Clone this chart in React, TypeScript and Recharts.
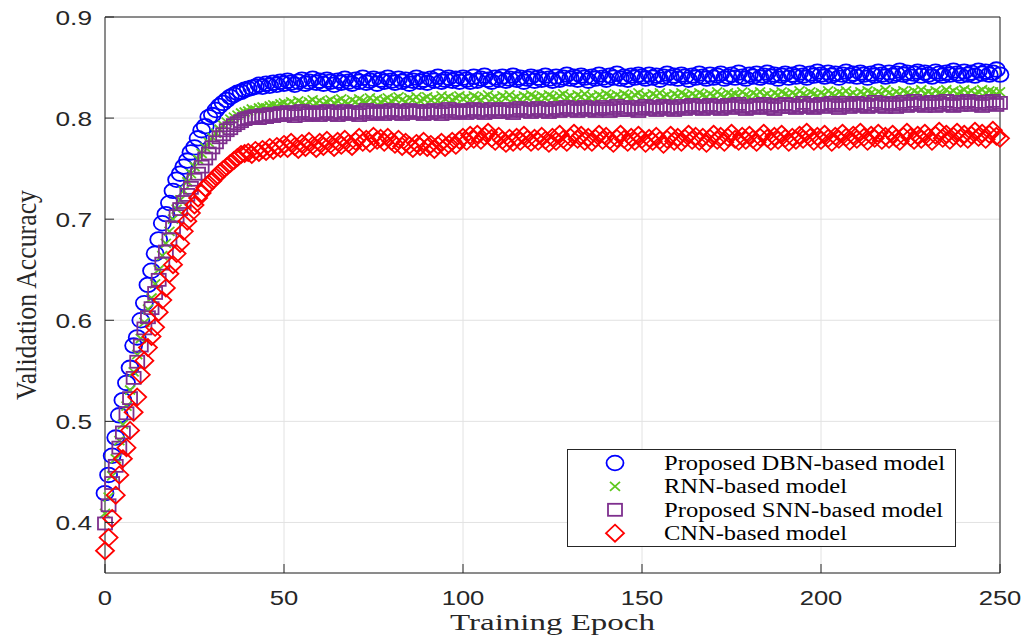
import React from "react";
import {
  ScatterChart,
  Scatter,
  XAxis,
  YAxis,
  CartesianGrid,
  Legend,
  Label,
} from "recharts";

// epochs 0..250, one point per epoch
const EPOCHS = Array.from({ length: 251 }, (_, i) => i);
const X_TICKS = [0, 50, 100, 150, 200, 250];
const Y_TICKS = [0.4, 0.5, 0.6, 0.7, 0.8, 0.9];

const DBN = [
  0.429, 0.447, 0.466, 0.484, 0.506, 0.521, 0.538, 0.553, 0.575, 0.583,
  0.600, 0.617, 0.635, 0.649, 0.666, 0.680, 0.696, 0.705, 0.716, 0.728,
  0.739, 0.745, 0.752, 0.758, 0.766, 0.771, 0.780, 0.788, 0.792, 0.801,
  0.803, 0.808, 0.812, 0.815, 0.818, 0.821, 0.823, 0.825, 0.826, 0.828,
  0.829, 0.830, 0.831, 0.833, 0.831, 0.834, 0.832, 0.835, 0.833, 0.836,
  0.834, 0.837, 0.835, 0.833, 0.836, 0.838, 0.834, 0.836, 0.839, 0.835,
  0.837, 0.834, 0.838, 0.836, 0.833, 0.837, 0.835, 0.839, 0.836, 0.834,
  0.838, 0.836, 0.840, 0.835, 0.837, 0.839, 0.834, 0.838, 0.836, 0.840,
  0.837, 0.835, 0.839, 0.836, 0.838, 0.834, 0.837, 0.840, 0.836, 0.838,
  0.835, 0.839, 0.837, 0.841, 0.836, 0.838, 0.840, 0.837, 0.839, 0.836,
  0.840, 0.838, 0.836, 0.841, 0.837, 0.839, 0.842, 0.838, 0.836, 0.840,
  0.838, 0.841, 0.837, 0.839, 0.842, 0.838, 0.840, 0.836, 0.839, 0.841,
  0.837, 0.840, 0.838, 0.842, 0.839, 0.837, 0.841, 0.838, 0.840, 0.843,
  0.839, 0.841, 0.838, 0.842, 0.840, 0.837, 0.841, 0.839, 0.843, 0.840,
  0.838, 0.842, 0.840, 0.844, 0.839, 0.841, 0.838, 0.842, 0.840, 0.843,
  0.841, 0.839, 0.843, 0.840, 0.842, 0.838, 0.841, 0.844, 0.840, 0.842,
  0.839, 0.843, 0.841, 0.838, 0.842, 0.840, 0.844, 0.841, 0.839, 0.843,
  0.840, 0.842, 0.844, 0.839, 0.841, 0.843, 0.840, 0.845, 0.841, 0.839,
  0.843, 0.841, 0.844, 0.840, 0.842, 0.845, 0.841, 0.843, 0.839, 0.842,
  0.844, 0.840, 0.843, 0.841, 0.845, 0.842, 0.840, 0.844, 0.842, 0.846,
  0.843, 0.841, 0.845, 0.842, 0.844, 0.840, 0.843, 0.846, 0.842, 0.844,
  0.841, 0.845, 0.843, 0.840, 0.844, 0.842, 0.846, 0.843, 0.841, 0.845,
  0.842, 0.844, 0.847, 0.843, 0.845, 0.841, 0.844, 0.846, 0.842, 0.845,
  0.843, 0.841, 0.846, 0.844, 0.842, 0.845, 0.843, 0.847, 0.844, 0.842,
  0.846, 0.843, 0.845, 0.842, 0.847, 0.844, 0.846, 0.843, 0.845, 0.848,
  0.843,
];

const RNN = [
  0.409, 0.425, 0.446, 0.463, 0.481, 0.497, 0.515, 0.531, 0.549, 0.566,
  0.582, 0.598, 0.611, 0.622, 0.636, 0.650, 0.664, 0.676, 0.688, 0.700,
  0.710, 0.719, 0.728, 0.737, 0.745, 0.752, 0.759, 0.765, 0.771, 0.776,
  0.781, 0.785, 0.789, 0.793, 0.796, 0.799, 0.801, 0.803, 0.805, 0.806,
  0.807, 0.809, 0.808, 0.810, 0.811, 0.810, 0.812, 0.813, 0.812, 0.814,
  0.815, 0.813, 0.816, 0.814, 0.817, 0.815, 0.813, 0.816, 0.818, 0.815,
  0.817, 0.814, 0.816, 0.818, 0.815, 0.817, 0.819, 0.816, 0.814, 0.818,
  0.816, 0.819, 0.817, 0.815, 0.820, 0.817, 0.819, 0.816, 0.818, 0.820,
  0.817, 0.819, 0.821, 0.818, 0.816, 0.820, 0.818, 0.821, 0.817, 0.819,
  0.821, 0.818, 0.820, 0.817, 0.822, 0.819, 0.821, 0.818, 0.820, 0.822,
  0.819, 0.821, 0.818, 0.822, 0.820, 0.818, 0.821, 0.823, 0.819, 0.821,
  0.818, 0.822, 0.820, 0.823, 0.819, 0.821, 0.818, 0.822, 0.820, 0.823,
  0.821, 0.819, 0.822, 0.820, 0.823, 0.821, 0.819, 0.822, 0.824, 0.820,
  0.822, 0.819, 0.823, 0.821, 0.824, 0.820, 0.822, 0.819, 0.823, 0.821,
  0.824, 0.822, 0.820, 0.823, 0.821, 0.824, 0.822, 0.820, 0.823, 0.825,
  0.821, 0.823, 0.820, 0.824, 0.822, 0.825, 0.821, 0.823, 0.820, 0.824,
  0.822, 0.825, 0.823, 0.821, 0.824, 0.822, 0.825, 0.823, 0.821, 0.824,
  0.822, 0.826, 0.823, 0.821, 0.825, 0.823, 0.824, 0.822, 0.826, 0.823,
  0.821, 0.825, 0.823, 0.826, 0.822, 0.824, 0.821, 0.825, 0.823, 0.826,
  0.824, 0.822, 0.825, 0.823, 0.827, 0.824, 0.822, 0.826, 0.824, 0.822,
  0.825, 0.823, 0.827, 0.824, 0.822, 0.826, 0.824, 0.827, 0.823, 0.825,
  0.822, 0.826, 0.824, 0.827, 0.825, 0.823, 0.826, 0.824, 0.828, 0.825,
  0.823, 0.826, 0.824, 0.827, 0.825, 0.823, 0.827, 0.825, 0.828, 0.824,
  0.826, 0.824, 0.827, 0.825, 0.823, 0.828, 0.825, 0.827, 0.824, 0.826,
  0.828, 0.825, 0.827, 0.824, 0.826, 0.828, 0.825, 0.827, 0.826, 0.824,
  0.826,
];

const SNN = [
  0.399, 0.417, 0.439, 0.456, 0.474, 0.489, 0.508, 0.523, 0.543, 0.559,
  0.575, 0.592, 0.603, 0.612, 0.627, 0.640, 0.656, 0.668, 0.680, 0.692,
  0.703, 0.710, 0.717, 0.724, 0.731, 0.739, 0.745, 0.752, 0.760, 0.765,
  0.771, 0.776, 0.781, 0.784, 0.788, 0.790, 0.793, 0.795, 0.797, 0.799,
  0.800, 0.801, 0.802, 0.800, 0.803, 0.801, 0.804, 0.802, 0.803, 0.805,
  0.803, 0.806, 0.804, 0.802, 0.805, 0.807, 0.803, 0.805, 0.804, 0.806,
  0.803, 0.805, 0.807, 0.804, 0.806, 0.803, 0.805, 0.807, 0.804, 0.806,
  0.805, 0.803, 0.806, 0.808, 0.804, 0.806, 0.805, 0.807, 0.804, 0.806,
  0.808, 0.805, 0.807, 0.804, 0.806, 0.808, 0.805, 0.807, 0.806, 0.804,
  0.807, 0.805, 0.808, 0.806, 0.804, 0.807, 0.809, 0.805, 0.807, 0.806,
  0.808, 0.805, 0.807, 0.809, 0.806, 0.808, 0.805, 0.807, 0.809, 0.806,
  0.808, 0.806, 0.809, 0.807, 0.805, 0.808, 0.810, 0.807, 0.809, 0.806,
  0.808, 0.810, 0.807, 0.809, 0.806, 0.808, 0.810, 0.807, 0.809, 0.811,
  0.808, 0.810, 0.807, 0.809, 0.811, 0.808, 0.810, 0.807, 0.809, 0.811,
  0.809, 0.807, 0.810, 0.812, 0.808, 0.810, 0.808, 0.811, 0.809, 0.807,
  0.810, 0.812, 0.809, 0.811, 0.808, 0.810, 0.812, 0.809, 0.811, 0.808,
  0.810, 0.812, 0.809, 0.811, 0.813, 0.810, 0.812, 0.809, 0.811, 0.813,
  0.810, 0.812, 0.809, 0.811, 0.813, 0.810, 0.812, 0.814, 0.811, 0.809,
  0.812, 0.810, 0.813, 0.811, 0.814, 0.810, 0.812, 0.809, 0.813, 0.811,
  0.814, 0.811, 0.813, 0.810, 0.812, 0.815, 0.811, 0.813, 0.810, 0.812,
  0.814, 0.811, 0.813, 0.815, 0.812, 0.810, 0.813, 0.815, 0.811, 0.813,
  0.815, 0.812, 0.814, 0.811, 0.813, 0.816, 0.812, 0.814, 0.811, 0.815,
  0.813, 0.811, 0.814, 0.816, 0.812, 0.814, 0.817, 0.813, 0.815, 0.812,
  0.814, 0.816, 0.812, 0.815, 0.813, 0.817, 0.814, 0.812, 0.816, 0.813,
  0.815, 0.817, 0.813, 0.816, 0.814, 0.812, 0.816, 0.814, 0.817, 0.813,
  0.815,
];

const CNN = [
  0.372, 0.385, 0.404, 0.427, 0.447, 0.463, 0.474, 0.491, 0.509, 0.524,
  0.546, 0.560, 0.573, 0.584, 0.593, 0.608, 0.620, 0.632, 0.646, 0.655,
  0.666, 0.676, 0.688, 0.698, 0.706, 0.714, 0.721, 0.726, 0.731, 0.735,
  0.738, 0.742, 0.746, 0.749, 0.752, 0.755, 0.758, 0.761, 0.764, 0.765,
  0.766, 0.764, 0.768, 0.766, 0.769, 0.767, 0.771, 0.768, 0.772, 0.770,
  0.774, 0.770, 0.776, 0.772, 0.769, 0.775, 0.771, 0.777, 0.773, 0.770,
  0.776, 0.772, 0.778, 0.774, 0.771, 0.777, 0.773, 0.779, 0.775, 0.772,
  0.777, 0.781, 0.776, 0.779, 0.775, 0.782, 0.778, 0.780, 0.776, 0.781,
  0.777, 0.774, 0.779, 0.772, 0.776, 0.773, 0.770, 0.775, 0.772, 0.777,
  0.771, 0.774, 0.769, 0.773, 0.776, 0.771, 0.774, 0.777, 0.773, 0.778,
  0.781, 0.777, 0.783, 0.779, 0.784, 0.778, 0.782, 0.786, 0.780, 0.777,
  0.782, 0.778, 0.775, 0.780, 0.776, 0.781, 0.777, 0.783, 0.779, 0.776,
  0.780, 0.777, 0.782, 0.778, 0.775, 0.781, 0.777, 0.784, 0.779, 0.776,
  0.781, 0.785, 0.779, 0.783, 0.777, 0.781, 0.776, 0.780, 0.784, 0.778,
  0.782, 0.778, 0.775, 0.780, 0.784, 0.779, 0.776, 0.781, 0.777, 0.783,
  0.779, 0.775, 0.780, 0.777, 0.782, 0.778, 0.774, 0.779, 0.783, 0.777,
  0.781, 0.776, 0.780, 0.784, 0.778, 0.782, 0.777, 0.781, 0.775, 0.780,
  0.784, 0.778, 0.782, 0.776, 0.781, 0.785, 0.779, 0.777, 0.782, 0.778,
  0.783, 0.779, 0.776, 0.781, 0.785, 0.780, 0.777, 0.782, 0.778, 0.784,
  0.780, 0.776, 0.781, 0.778, 0.783, 0.779, 0.786, 0.781, 0.777, 0.782,
  0.778, 0.784, 0.780, 0.776, 0.782, 0.779, 0.785, 0.781, 0.777, 0.783,
  0.779, 0.786, 0.781, 0.777, 0.783, 0.780, 0.785, 0.778, 0.782, 0.779,
  0.784, 0.780, 0.777, 0.782, 0.786, 0.781, 0.778, 0.783, 0.779, 0.785,
  0.781, 0.777, 0.783, 0.787, 0.780, 0.784, 0.778, 0.782, 0.786, 0.780,
  0.784, 0.779, 0.783, 0.787, 0.781, 0.785, 0.779, 0.784, 0.788, 0.782,
  0.780,
];

const SERIES = [
  { name: "Proposed DBN-based model", values: DBN, color: "#0000ff", marker: "circle", textLen: 281 },
  { name: "RNN-based model", values: RNN, color: "#5fc81e", marker: "cross", textLen: 183 },
  { name: "Proposed SNN-based model", values: SNN, color: "#7e2f8e", marker: "square", textLen: 279 },
  { name: "CNN-based model", values: CNN, color: "#ff0000", marker: "diamond", textLen: 183 },
];

const AXIS = "#262626";
const TICK_LEN = 9;
const SANS = "'Liberation Sans', Arial, Helvetica, sans-serif";
const SERIF = "'Liberation Serif', 'Times New Roman', serif";

function Marker({ kind, cx, cy, color }) {
  const sw = 1.8;
  if (kind === "circle")
    return <ellipse cx={cx} cy={cy} rx={8.5} ry={7.3} fill="none" stroke={color} strokeWidth={sw} />;
  if (kind === "cross")
    return (
      <path
        d={`M${cx - 5},${cy - 4.5}L${cx + 5},${cy + 4.5}M${cx - 5},${cy + 4.5}L${cx + 5},${cy - 4.5}`}
        stroke={color}
        strokeWidth={sw}
        fill="none"
      />
    );
  if (kind === "square")
    return <rect x={cx - 7} y={cy - 6} width={14} height={12} fill="none" stroke={color} strokeWidth={sw} />;
  return (
    <path
      d={`M${cx},${cy - 8.5}L${cx + 9},${cy}L${cx},${cy + 8.5}L${cx - 9},${cy}Z`}
      fill="none"
      stroke={color}
      strokeWidth={sw}
    />
  );
}

// MATLAB style: ticks point inward, labels stretched a little wider
function BottomTick({ x, y, payload }) {
  return (
    <g>
      <line x1={x} y1={y} x2={x} y2={y - TICK_LEN} stroke={AXIS} />
      <text
        transform={`translate(${x},${y + 32}) scale(1.22,1)`}
        textAnchor="middle"
        fontFamily={SANS}
        fontSize={21}
        fill={AXIS}
      >
        {payload.value}
      </text>
    </g>
  );
}

function TopTick({ x, y }) {
  return <line x1={x} y1={y} x2={x} y2={y + TICK_LEN} stroke={AXIS} />;
}

function LeftTick({ x, y, payload }) {
  return (
    <g>
      <line x1={x} y1={y} x2={x + TICK_LEN} y2={y} stroke={AXIS} />
      <text
        transform={`translate(${x - 13},${y + 7.5}) scale(1.25,1)`}
        textAnchor="end"
        fontFamily={SANS}
        fontSize={21}
        fill={AXIS}
      >
        {Number(payload.value).toFixed(1)}
      </text>
    </g>
  );
}

function RightTick({ x, y }) {
  return <line x1={x} y1={y} x2={x - TICK_LEN} y2={y} stroke={AXIS} />;
}

function XTitle({ viewBox }) {
  const cx = viewBox.x + viewBox.width / 2;
  return (
    <text
      x={cx}
      y={viewBox.y + 57}
      textAnchor="middle"
      fontFamily={SERIF}
      fontSize={23}
      textLength={205}
      lengthAdjust="spacingAndGlyphs"
      fill={AXIS}
    >
      Training Epoch
    </text>
  );
}

function YTitle({ viewBox }) {
  const cy = viewBox.y + viewBox.height / 2;
  return (
    <text
      transform={`translate(36,${cy}) scale(1.25,1) rotate(-90)`}
      textAnchor="middle"
      fontFamily={SERIF}
      fontSize={24}
      textLength={210}
      lengthAdjust="spacingAndGlyphs"
      fill={AXIS}
    >
      Validation Accuracy
    </text>
  );
}

function LegendBox() {
  return (
    <svg width={390} height={99} style={{ display: "block" }}>
      <rect x={0.5} y={0.5} width={388} height={97} fill="#fff" stroke={AXIS} strokeWidth={1} />
      {SERIES.map((s, i) => {
        const cy = 14 + i * 23.4;
        return (
          <g key={s.name}>
            <Marker kind={s.marker} cx={48} cy={cy} color={s.color} />
            <text
              x={97}
              y={cy + 7}
              fontFamily={SERIF}
              fontSize={20}
              textLength={s.textLen}
              lengthAdjust="spacingAndGlyphs"
              fill="#000"
            >
              {s.name}
            </text>
          </g>
        );
      })}
    </svg>
  );
}

export default function App() {
  return (
    <div style={{ position: "absolute", left: 0, top: 0, width: 1026, height: 641, background: "#fff" }}>
      <ScatterChart width={1026} height={641} margin={{ top: 16, right: 20, bottom: 0, left: 0 }}>
        <CartesianGrid xAxisId="b" yAxisId="l" stroke="#e2e2e2" strokeWidth={1} />
        <XAxis
          xAxisId="b"
          type="number"
          dataKey="epoch"
          domain={[0, 250]}
          ticks={X_TICKS}
          interval={0}
          height={68}
          tickSize={0}
          tickMargin={0}
          tickLine={false}
          axisLine={{ stroke: AXIS }}
          tick={<BottomTick />}
        >
          <Label content={<XTitle />} />
        </XAxis>
        <XAxis
          xAxisId="t"
          orientation="top"
          type="number"
          domain={[0, 250]}
          ticks={X_TICKS}
          interval={0}
          height={1}
          tickSize={0}
          tickMargin={0}
          tickLine={false}
          axisLine={{ stroke: AXIS }}
          tick={<TopTick />}
        />
        <YAxis
          yAxisId="l"
          type="number"
          dataKey="acc"
          domain={[0.35, 0.9]}
          ticks={Y_TICKS}
          interval={0}
          width={105}
          tickSize={0}
          tickMargin={0}
          tickLine={false}
          axisLine={{ stroke: AXIS }}
          tick={<LeftTick />}
        >
          <Label content={<YTitle />} />
        </YAxis>
        <YAxis
          yAxisId="r"
          orientation="right"
          type="number"
          domain={[0.35, 0.9]}
          ticks={Y_TICKS}
          interval={0}
          width={6}
          tickSize={0}
          tickMargin={0}
          tickLine={false}
          axisLine={{ stroke: AXIS }}
          tick={<RightTick />}
        />
        {SERIES.map((s) => (
          <Scatter
            key={s.name}
            name={s.name}
            xAxisId="b"
            yAxisId="l"
            data={s.values.map((v, i) => ({ epoch: EPOCHS[i], acc: v }))}
            isAnimationActive={false}
            shape={(p) => <Marker kind={s.marker} cx={p.cx} cy={p.cy} color={s.color} />}
          />
        ))}
        <Legend
          layout="horizontal"
          verticalAlign="middle"
          align="center"
          wrapperStyle={{ left: 567, top: 449, width: 390, height: 99 }}
          content={() => <LegendBox />}
        />
      </ScatterChart>
    </div>
  );
}
